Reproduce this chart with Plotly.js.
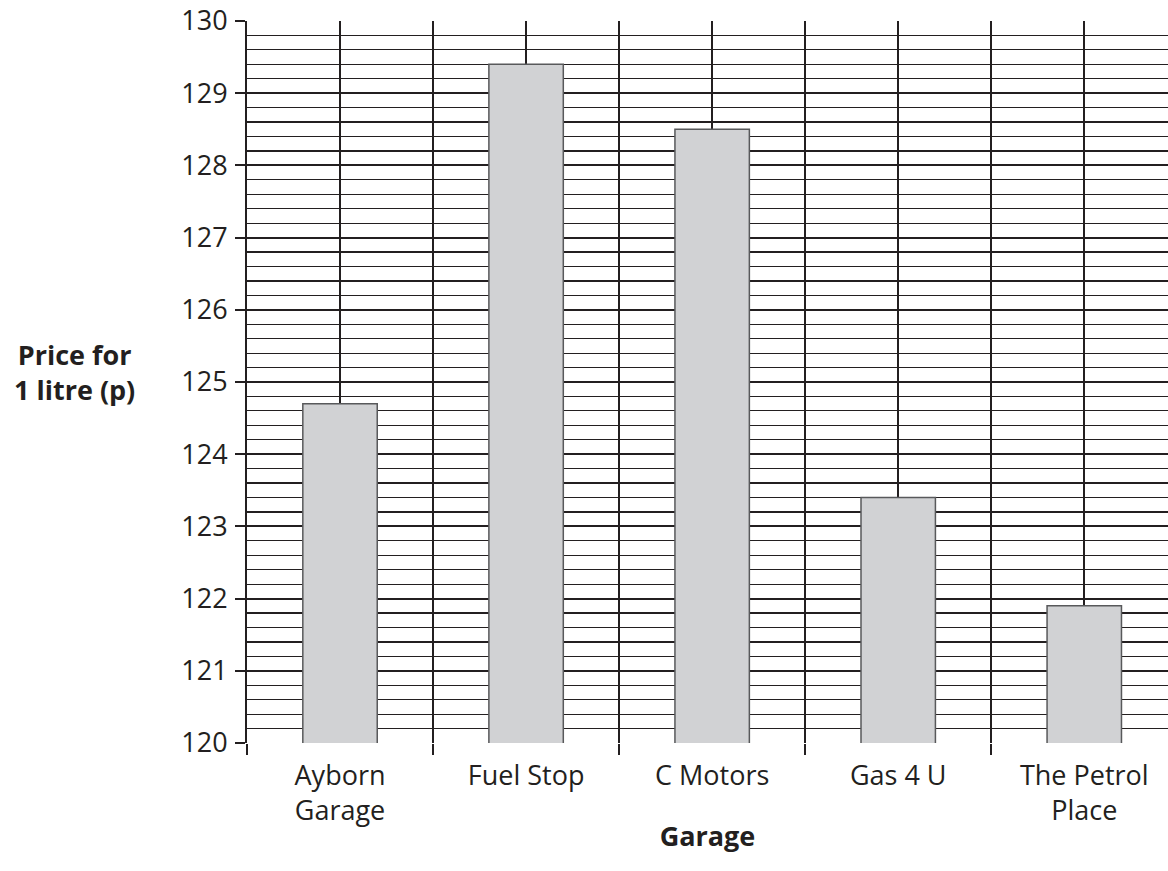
<!DOCTYPE html>
<html>
<head>
<meta charset="utf-8">
<script src="https://cdn.plot.ly/plotly-3.0.1.min.js"></script>
<style>html,body{margin:0;padding:0;background:#fff;}#chart{width:1168px;height:871px;}</style>
</head>
<body>
<div id="chart"></div>
<script>
const categories = ["Ayborn<br>Garage", "Fuel Stop", "C Motors", "Gas 4 U", "The Petrol<br>Place"];
const prices = [124.7, 129.4, 128.5, 123.4, 121.9];
const yTickVals = [120, 121, 122, 123, 124, 125, 126, 127, 128, 129, 130];

const ink = "#231f20";
const font = "'Open Sans', 'Liberation Sans', sans-serif";
const xPos = categories.map((c, i) => i);

const trace = {
  type: "bar",
  x: xPos,
  y: prices,
  width: 0.4,
  marker: {color: "#d1d2d4", line: {color: "#58595b", width: 1.5}},
  hoverinfo: "skip"
};

const layout = {
  width: 1168, height: 871,
  margin: {l: 247, r: 0, t: 21, b: 128},
  paper_bgcolor: "#fff", plot_bgcolor: "#fff",
  showlegend: false,
  font: {family: font, color: ink, size: 27},
  xaxis: {
    range: [-0.5, 4.45],
    tickvals: xPos,
    ticktext: categories,
    ticks: "",
    ticklabelstandoff: 14,
    showgrid: true, gridcolor: ink, gridwidth: 2,
    zeroline: false,
    showline: false,
    tickfont: {size: 27, family: font, color: ink},
    minor: {tick0: -0.5, dtick: 1, ticks: "outside", ticklen: 11, tickwidth: 2, tickcolor: ink, showgrid: true, gridcolor: ink, gridwidth: 2},
    title: {text: "<b>Garage</b>", font: {size: 27, family: font, color: ink}, standoff: 0}
  },
  yaxis: {
    range: [120, 130],
    tickvals: yTickVals,
    ticks: "outside", ticklen: 10, tickwidth: 2, tickcolor: ink,
    ticklabelstandoff: 2,
    showgrid: true, gridcolor: ink, gridwidth: 2,
    showline: true, linecolor: ink, linewidth: 2,
    zeroline: false,
    tickfont: {size: 27, family: font, color: ink},
    minor: {dtick: 0.2, showgrid: true, gridcolor: ink, gridwidth: 1.2, ticks: ""}
  },
  annotations: [{
    text: "<b>Price for<br>1 litre (p)</b>",
    xref: "paper", yref: "paper", x: -0.187, y: 0.514,
    xanchor: "center", yanchor: "middle", showarrow: false,
    font: {size: 27, family: font, color: ink}, align: "center"
  }]
};

Plotly.newPlot("chart", [trace], layout, {staticPlot: true});
</script>
</body>
</html>
